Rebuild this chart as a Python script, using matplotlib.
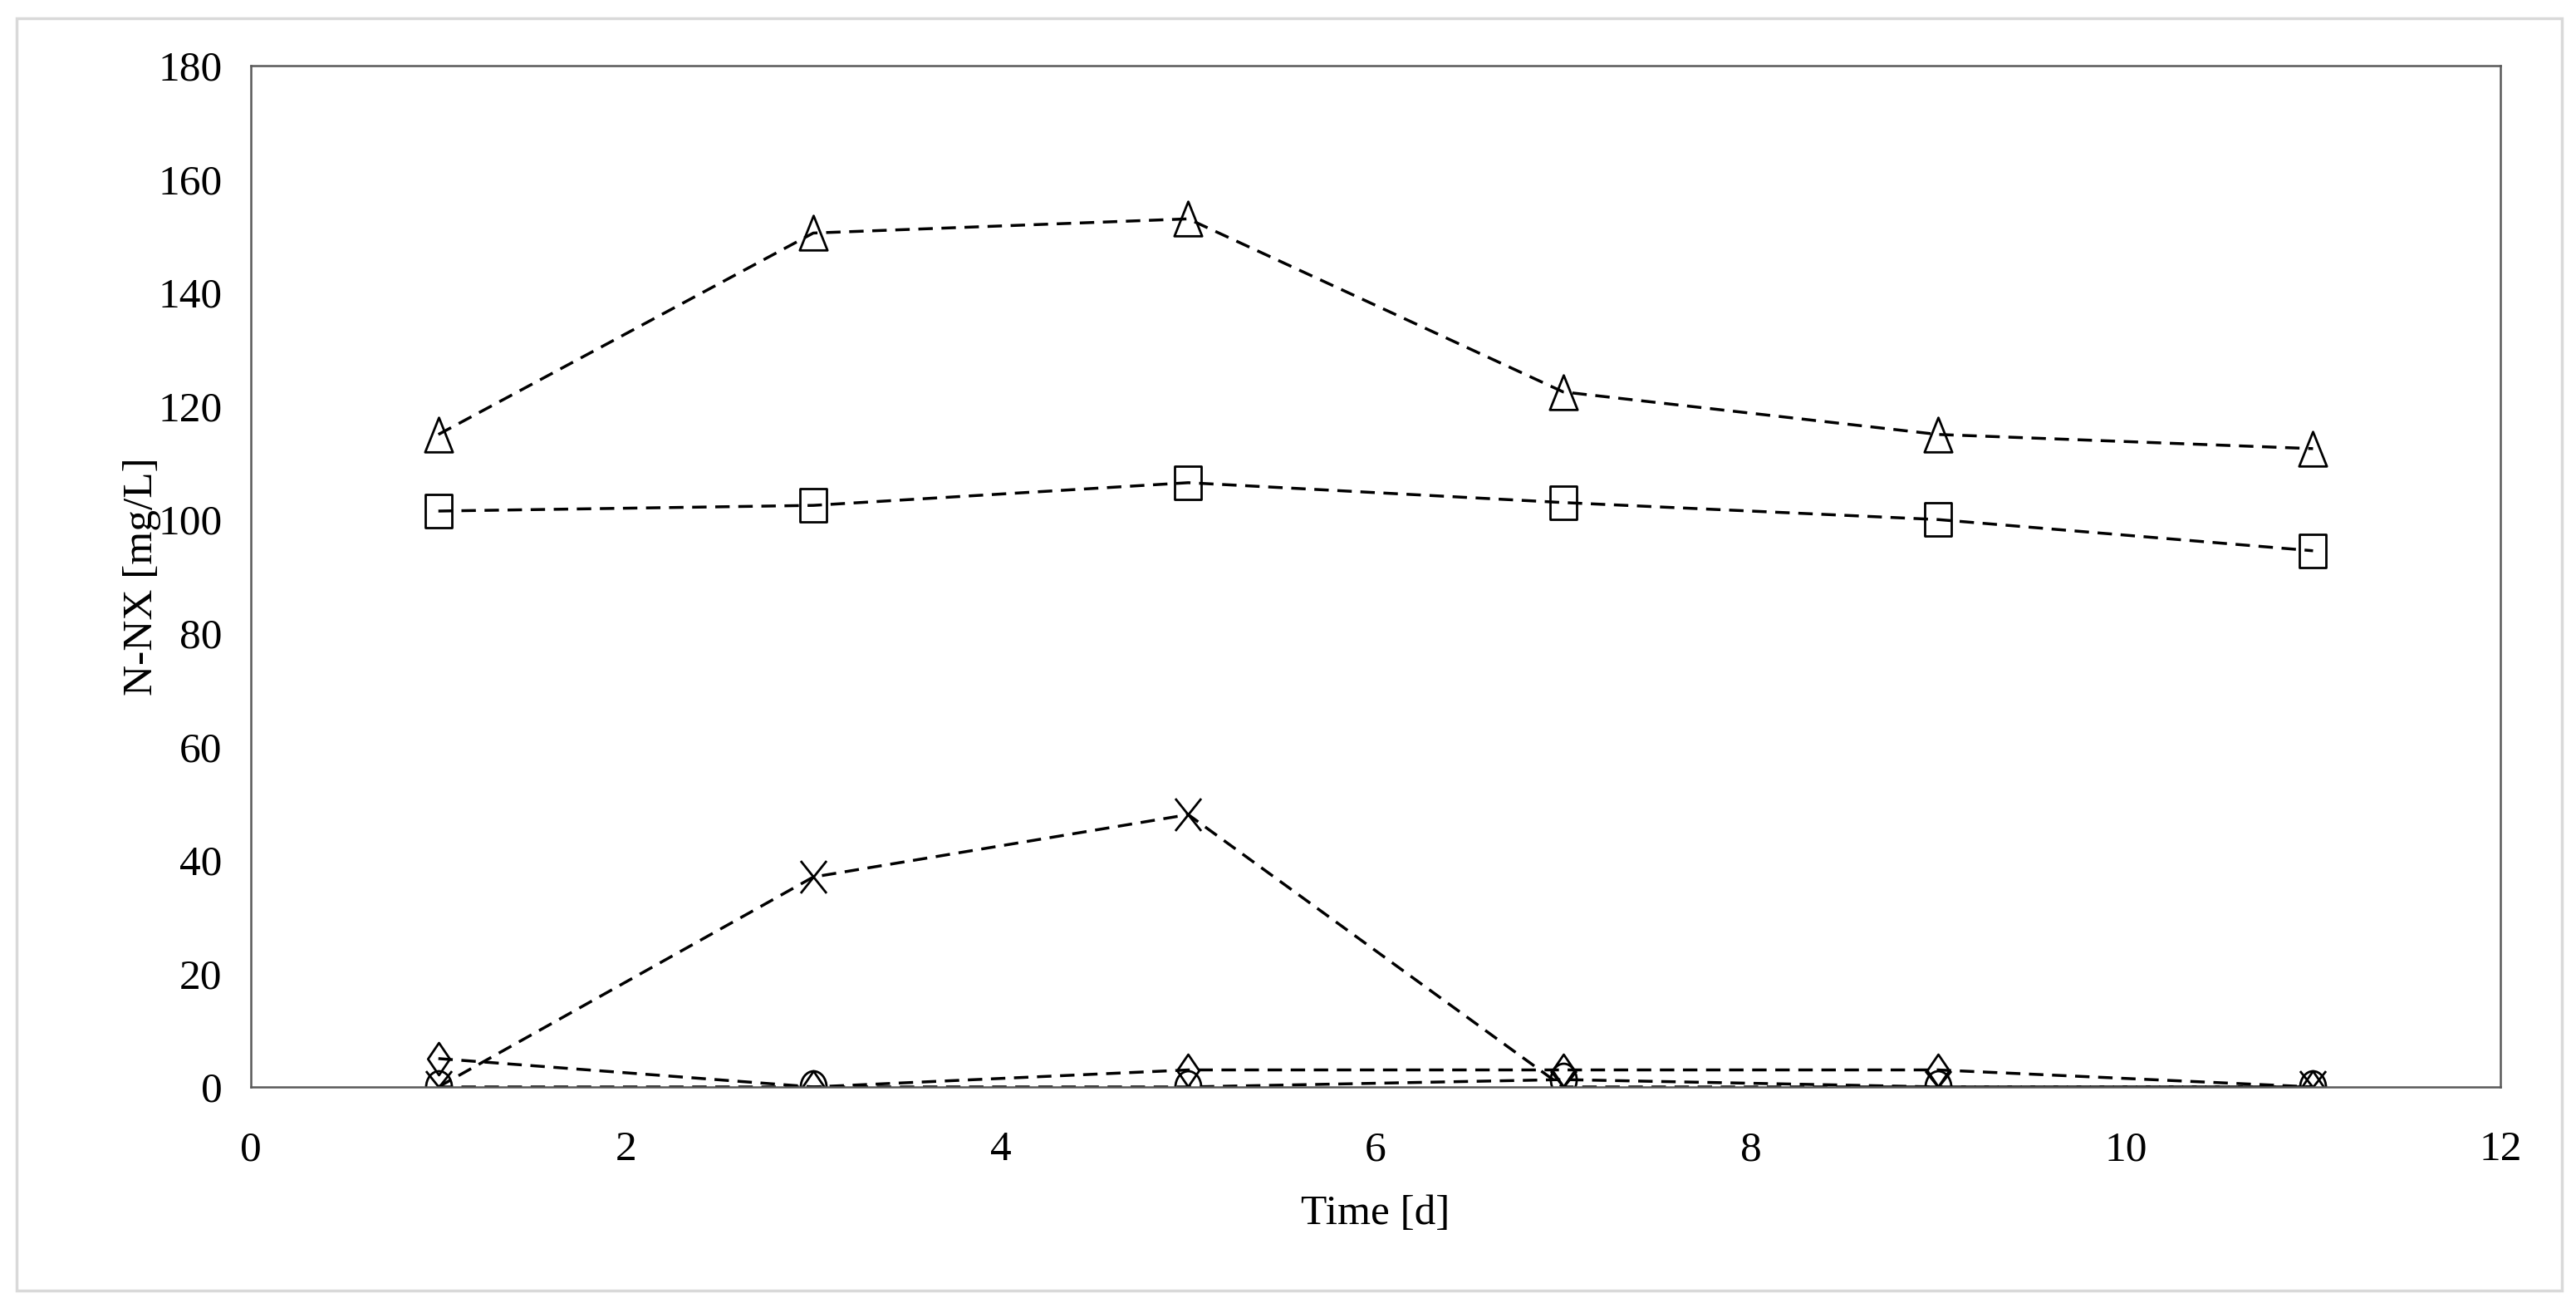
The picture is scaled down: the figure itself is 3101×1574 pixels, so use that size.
import matplotlib
matplotlib.use('Agg')
import matplotlib.pyplot as plt
from matplotlib.patches import Rectangle
from matplotlib.path import Path
from matplotlib.transforms import Affine2D

# Data
time_d = [1, 3, 5, 7, 9, 11]
triangle_vals = [115.0, 150.5, 153.0, 122.5, 115.0, 112.5]
square_vals = [101.5, 102.5, 106.5, 103.0, 100.0, 94.5]
cross_vals = [0.0, 37.0, 48.0, 0.0, 0.0, 0.0]
diamond_vals = [5.0, 0.0, 3.0, 3.0, 3.0, 0.0]
circle_vals = [0.0, 0.0, 0.0, 1.3, 0.0, 0.0]

x_ticks = [0, 2, 4, 6, 8, 10, 12]
y_ticks = [0, 20, 40, 60, 80, 100, 120, 140, 160, 180]

# the original markers are a bit taller than wide
w = 0.8
tri_marker = Path([(0, 1), (-w, -1), (w, -1), (0, 1)], closed=True)
sq_marker = Path([(-w, -1), (w, -1), (w, 1), (-w, 1), (-w, -1)], closed=True)
dia_marker = Path([(0, 1), (w * 0.85, 0), (0, -1), (-w * 0.85, 0), (0, 1)], closed=True)
x_marker = Path([(-w, -1), (w, 1), (-w, 1), (w, -1)],
                [Path.MOVETO, Path.LINETO, Path.MOVETO, Path.LINETO])
circ_marker = Path.unit_circle().transformed(Affine2D().scale(w, 1))

plt.rcParams['font.family'] = ['Liberation Serif', 'DejaVu Serif']

fig = plt.figure(figsize=(31.01, 15.74), dpi=100)
ax = fig.add_axes([0.0974, 0.169, 0.8733, 0.7808])

line_kw = dict(color='black', lw=2.5, linestyle=(0, (5, 3)),
               mfc='none', mec='black', mew=2.0)

ax.plot(time_d, triangle_vals, marker=tri_marker, ms=30, **line_kw)
ax.plot(time_d, square_vals, marker=sq_marker, ms=29, **line_kw)
ax.plot(time_d, cross_vals, marker=x_marker, ms=28, **line_kw)
ax.plot(time_d, diamond_vals, marker=dia_marker, ms=28, **line_kw)
ax.plot(time_d, circle_vals, marker=circ_marker, ms=28, **line_kw)

ax.set_xlim(0, 12)
ax.set_ylim(0, 180)
ax.set_xticks(x_ticks)
ax.set_yticks(y_ticks)
ax.tick_params(axis='both', length=0, labelsize=37)
ax.tick_params(axis='x', pad=38)
ax.tick_params(axis='y', pad=25)

for sp in ax.spines.values():
    sp.set_color('#595959')
    sp.set_linewidth(1.8)

ax.set_xlabel('Time [d]', fontsize=37, labelpad=22)
ax.set_ylabel('N-NX [mg/L]', fontsize=37, labelpad=-3)

# light grey frame around the whole picture
fig.patches.append(Rectangle((0.0064, 0.0133), 0.988, 0.9727, transform=fig.transFigure,
                             fill=False, edgecolor='#d9d9d9', lw=2.5))

fig.savefig('out.png', dpi=100, facecolor='white')
